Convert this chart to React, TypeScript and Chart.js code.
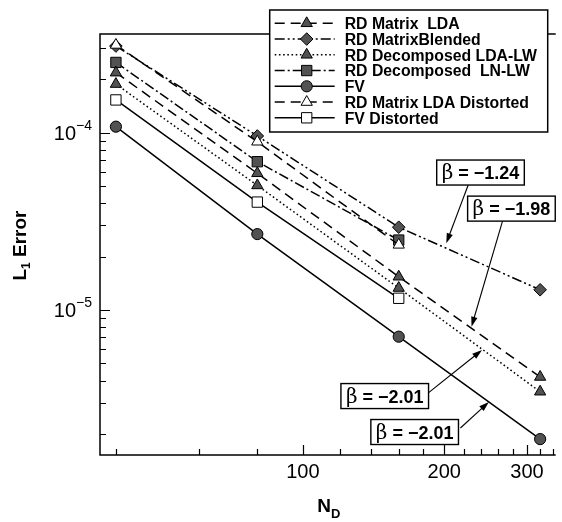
import React, { useEffect, useRef } from 'react';
import { Chart, registerables } from 'chart.js';

Chart.register(...registerables);

// ---------- data ----------
const N_D = [40, 80, 160, 320];

const RD_MATRIX_LDA = [2.18e-4, 5.9e-5, 1.54e-5, 4.19e-6];
const RD_MATRIX_BLENDED = [3.08e-4, 9.58e-5, 2.93e-5, 1.3e-5];
const RD_DECOMP_LDA_LW = [1.88e-4, 5.04e-5, 1.33e-5, 3.46e-6];
const RD_DECOMP_LN_LW = [2.49e-4, 6.86e-5, 2.48e-5];
const FV = [1.081e-4, 2.68e-5, 7.07e-6, 1.87e-6];
const RD_MATRIX_LDA_DIST = [3.125e-4, 8.89e-5, 2.33e-5];
const FV_DIST = [1.53e-4, 4.06e-5, 1.164e-5];

const SERIES_LABELS = [
  'RD Matrix  LDA',
  'RD MatrixBlended',
  'RD Decomposed LDA-LW',
  'RD Decomposed  LN-LW',
  'FV',
  'RD Matrix LDA Distorted',
  'FV Distorted',
];

const X_LABELED_TICKS = [100, 200, 300];
const X_MINOR_TICKS = [40, 60, 80, 120, 140, 160, 180, 220, 240, 260, 280, 320, 340];
const Y_LABELED_TICKS = [1e-5, 1e-4];
const Y_TICK_EXPONENTS = ['\u22125', '\u22124'];
const Y_MINOR_TICKS = [
  2e-6, 3e-6, 4e-6, 5e-6, 6e-6, 7e-6, 8e-6, 9e-6,
  2e-5, 3e-5, 4e-5, 5e-5, 6e-5, 7e-5, 8e-5, 9e-5,
  2e-4, 3e-4,
];

const X_MIN = 37;
const X_MAX = 342;
const Y_MIN = 1.521e-6;
const Y_MAX = 3.602e-4;

const X_TITLE = 'N';
const X_TITLE_SUB = 'D';
const Y_TITLE = 'L';
const Y_TITLE_SUB = '1';
const Y_TITLE_REST = ' Error';

// slope annotations (data coordinates)
const SLOPE_LABELS = ['\u22121.24', '\u22121.98', '\u22122.01', '\u22122.01'];
const SLOPE_BOX_AT = [[238.9, 5.96e-5], [278, 3.73e-5], [149.4, 3.27e-6], [173, 2.05e-6]];
const SLOPE_ARROW_FROM = [[224.9, 5.07e-5], [266.2, 3.18e-5], [184.7, 3.4e-6], [216.5, 2.16e-6]];
const SLOPE_ARROW_TO = [[202, 2.38e-5], [228.6, 8.05e-6], [240.7, 5.95e-6], [248.9, 3.03e-6]];

// ---------- styles ----------
const GRAY = '#525252';
const SANS = '"Liberation Sans", Arial, Helvetica, sans-serif';
const SERIF = '"DejaVu Serif", "Liberation Serif", serif';

const SERIES_VALUES = [
  RD_MATRIX_LDA, RD_MATRIX_BLENDED, RD_DECOMP_LDA_LW, RD_DECOMP_LN_LW, FV, RD_MATRIX_LDA_DIST, FV_DIST,
];
const SERIES_STYLE = [
  { dash: [10, 6], marker: 'triangle', r: 6.5, fill: GRAY, order: 0 },
  { dash: [10, 3, 2, 3, 2, 3], marker: 'rectRot', r: 6.3, fill: GRAY, order: 0 },
  { dash: [1.6, 2.6], marker: 'triangle', r: 6.5, fill: GRAY, order: 0 },
  { dash: [10, 3, 2, 3], marker: 'rect', r: 7.3, fill: GRAY, order: 0 },
  { dash: [], marker: 'circle', r: 5.6, fill: GRAY, order: 0 },
  { dash: [10, 6], marker: 'triangle', r: 6.5, fill: '#ffffff', order: -1 },
  { dash: [], marker: 'rect', r: 7.3, fill: '#ffffff', order: 0 },
];

function drawMarker(ctx: CanvasRenderingContext2D, style: string, x: number, y: number, r: number, fill: string) {
  ctx.save();
  ctx.setLineDash([]);
  ctx.beginPath();
  if (style === 'triangle') {
    ctx.moveTo(x, y - r);
    ctx.lineTo(x + 0.866 * r, y + 0.5 * r);
    ctx.lineTo(x - 0.866 * r, y + 0.5 * r);
    ctx.closePath();
  } else if (style === 'rectRot') {
    ctx.moveTo(x, y - r);
    ctx.lineTo(x + r, y);
    ctx.lineTo(x, y + r);
    ctx.lineTo(x - r, y);
    ctx.closePath();
  } else if (style === 'rect') {
    const s = Math.SQRT1_2 * r;
    ctx.rect(x - s, y - s, 2 * s, 2 * s);
  } else {
    ctx.arc(x, y, r, 0, Math.PI * 2);
  }
  ctx.fillStyle = fill;
  ctx.fill();
  ctx.lineWidth = 1;
  ctx.strokeStyle = '#000';
  ctx.stroke();
  ctx.restore();
}

const overlay = {
  id: 'overlay',
  afterDraw(chart: any) {
    const ctx: CanvasRenderingContext2D = chart.ctx;
    const xs = chart.scales.x;
    const ys = chart.scales.y;
    const { left, right, top, bottom } = chart.chartArea;
    ctx.save();
    ctx.strokeStyle = '#000';
    ctx.fillStyle = '#000';
    ctx.setLineDash([]);

    // frame
    ctx.lineWidth = 1.5;
    ctx.beginPath();
    ctx.moveTo(right + 2, top);
    ctx.lineTo(left, top);
    ctx.lineTo(left, bottom);
    ctx.lineTo(right + 2, bottom);
    ctx.stroke();

    // x ticks
    ctx.lineWidth = 1.2;
    ctx.beginPath();
    for (const v of X_MINOR_TICKS) {
      const px = Math.round(xs.getPixelForValue(v)) + 0.5;
      ctx.moveTo(px, bottom);
      ctx.lineTo(px, bottom - 6);
    }
    for (const v of X_LABELED_TICKS) {
      const px = Math.round(xs.getPixelForValue(v)) + 0.5;
      ctx.moveTo(px, bottom);
      ctx.lineTo(px, bottom - 10);
    }
    // y ticks
    for (const v of Y_MINOR_TICKS) {
      const py = Math.round(ys.getPixelForValue(v)) + 0.5;
      ctx.moveTo(left, py);
      ctx.lineTo(left + 6, py);
    }
    for (const v of Y_LABELED_TICKS) {
      const py = Math.round(ys.getPixelForValue(v)) + 0.5;
      ctx.moveTo(left, py);
      ctx.lineTo(left + 10, py);
    }
    ctx.stroke();

    // x tick labels
    ctx.font = `20px ${SANS}`;
    ctx.textAlign = 'center';
    ctx.textBaseline = 'alphabetic';
    for (const v of X_LABELED_TICKS) {
      ctx.fillText(String(v), xs.getPixelForValue(v), bottom + 23);
    }

    // y tick labels 10^-n
    Y_LABELED_TICKS.forEach((v, i) => {
      const py = ys.getPixelForValue(v);
      ctx.font = `14px ${SANS}`;
      const ew = ctx.measureText(Y_TICK_EXPONENTS[i]).width;
      const ex = left - 8 - ew;
      ctx.textAlign = 'left';
      ctx.fillText(Y_TICK_EXPONENTS[i], ex, py - 3);
      ctx.font = `20px ${SANS}`;
      ctx.textAlign = 'right';
      ctx.fillText('10', ex, py + 7);
    });

    // x title
    {
      ctx.textAlign = 'left';
      ctx.font = `bold 19px ${SANS}`;
      const w1 = ctx.measureText(X_TITLE).width;
      ctx.font = `bold 13px ${SANS}`;
      const w2 = ctx.measureText(X_TITLE_SUB).width;
      const cx = (left + right) / 2 + 2;
      const x0 = cx - (w1 + w2) / 2;
      ctx.font = `bold 19px ${SANS}`;
      ctx.fillText(X_TITLE, x0, bottom + 57);
      ctx.font = `bold 13px ${SANS}`;
      ctx.fillText(X_TITLE_SUB, x0 + w1, bottom + 63);
    }

    // y title (rotated)
    {
      ctx.save();
      ctx.translate(26, (top + bottom) / 2 + 1);
      ctx.rotate(-Math.PI / 2);
      ctx.textAlign = 'left';
      ctx.font = `bold 19px ${SANS}`;
      const w1 = ctx.measureText(Y_TITLE).width;
      const w3 = ctx.measureText(Y_TITLE_REST).width;
      ctx.font = `bold 12px ${SANS}`;
      const w2 = ctx.measureText(Y_TITLE_SUB).width;
      const x0 = -(w1 + w2 + w3) / 2;
      ctx.font = `bold 19px ${SANS}`;
      ctx.fillText(Y_TITLE, x0, 0);
      ctx.fillText(Y_TITLE_REST, x0 + w1 + w2, 0);
      ctx.font = `bold 12px ${SANS}`;
      ctx.fillText(Y_TITLE_SUB, x0 + w1, 4);
      ctx.restore();
    }

    // slope annotations: arrows
    for (let i = 0; i < SLOPE_LABELS.length; i++) {
      const x1 = xs.getPixelForValue(SLOPE_ARROW_FROM[i][0]);
      const y1 = ys.getPixelForValue(SLOPE_ARROW_FROM[i][1]);
      const x2 = xs.getPixelForValue(SLOPE_ARROW_TO[i][0]);
      const y2 = ys.getPixelForValue(SLOPE_ARROW_TO[i][1]);
      const ang = Math.atan2(y2 - y1, x2 - x1);
      const hl = 10, hw = 3.2;
      ctx.lineWidth = 1.1;
      ctx.beginPath();
      ctx.moveTo(x1, y1);
      ctx.lineTo(x2 - Math.cos(ang) * hl * 0.8, y2 - Math.sin(ang) * hl * 0.8);
      ctx.stroke();
      ctx.beginPath();
      ctx.moveTo(x2, y2);
      ctx.lineTo(x2 - Math.cos(ang) * hl - Math.sin(ang) * hw, y2 - Math.sin(ang) * hl + Math.cos(ang) * hw);
      ctx.lineTo(x2 - Math.cos(ang) * hl + Math.sin(ang) * hw, y2 - Math.sin(ang) * hl - Math.cos(ang) * hw);
      ctx.closePath();
      ctx.fill();
    }
    // slope annotations: boxes
    for (let i = 0; i < SLOPE_LABELS.length; i++) {
      const cx = xs.getPixelForValue(SLOPE_BOX_AT[i][0]);
      const cy = ys.getPixelForValue(SLOPE_BOX_AT[i][1]);
      ctx.font = `20px ${SERIF}`;
      const wb = ctx.measureText('\u03b2').width;
      ctx.font = `bold 18px ${SANS}`;
      const rest = ' = ' + SLOPE_LABELS[i];
      const wr = ctx.measureText(rest).width;
      const w = wb + wr + 10;
      const h = 25;
      ctx.fillStyle = '#fff';
      ctx.fillRect(cx - w / 2, cy - h / 2, w, h);
      ctx.lineWidth = 1.4;
      ctx.strokeRect(cx - w / 2, cy - h / 2, w, h);
      ctx.fillStyle = '#000';
      ctx.textAlign = 'left';
      const tx = cx - w / 2 + 5;
      ctx.font = `20px ${SERIF}`;
      ctx.fillText('\u03b2', tx, cy + 6.5);
      ctx.font = `bold 18px ${SANS}`;
      ctx.fillText(rest, tx + wb, cy + 6.5);
    }

    // legend
    {
      const lgW = 278, lgH = 122;
      const lgL = right - 284, lgT = top - 24;
      ctx.fillStyle = '#fff';
      ctx.fillRect(lgL, lgT, lgW, lgH);
      ctx.lineWidth = 1.5;
      ctx.strokeRect(lgL, lgT, lgW, lgH);
      chart.data.datasets.forEach((ds: any, i: number) => {
        const cy = lgT + 13.3 + i * 15.75;
        ctx.save();
        ctx.lineWidth = 1.5;
        ctx.setLineDash(ds.borderDash || []);
        ctx.beginPath();
        ctx.moveTo(lgL + 5, cy);
        ctx.lineTo(lgL + 65, cy);
        ctx.stroke();
        ctx.restore();
        drawMarker(ctx, ds.pointStyle, lgL + 37, cy, ds.pointRadius, ds.pointBackgroundColor);
        ctx.fillStyle = '#000';
        ctx.font = `bold 15.8px ${SANS}`;
        ctx.textAlign = 'left';
        ctx.fillText(ds.label, lgL + 75, cy + 5.8);
      });
    }
    ctx.restore();
  },
};

export default function App() {
  const ref = useRef<HTMLCanvasElement>(null);
  useEffect(() => {
    document.body.style.margin = '0';
    const datasets = SERIES_VALUES.map((vals, i) => {
      const st = SERIES_STYLE[i];
      return {
        label: SERIES_LABELS[i],
        data: vals.map((v, j) => ({ x: N_D[j], y: v })),
        borderColor: '#000',
        borderWidth: 1.5,
        borderDash: st.dash,
        pointStyle: st.marker,
        pointRadius: st.r,
        pointBackgroundColor: st.fill,
        pointBorderColor: '#000',
        pointBorderWidth: 1,
        fill: false,
        tension: 0,
        order: st.order,
      };
    });
    const chart = new Chart(ref.current as HTMLCanvasElement, {
      type: 'line',
      data: { datasets } as any,
      options: {
        responsive: false,
        animation: false,
        devicePixelRatio: 1,
        events: [],
        layout: { padding: { left: 100, top: 34, right: 0, bottom: 67 } },
        plugins: { legend: { display: false }, tooltip: { enabled: false } },
        scales: {
          x: { type: 'logarithmic', min: X_MIN, max: X_MAX, display: false, bounds: 'data' },
          y: { type: 'logarithmic', min: Y_MIN, max: Y_MAX, display: false, bounds: 'data' },
        },
      } as any,
      plugins: [overlay as any],
    });
    return () => chart.destroy();
  }, []);
  return <canvas ref={ref} width={562} height={522} style={{ display: 'block' }} />;
}
